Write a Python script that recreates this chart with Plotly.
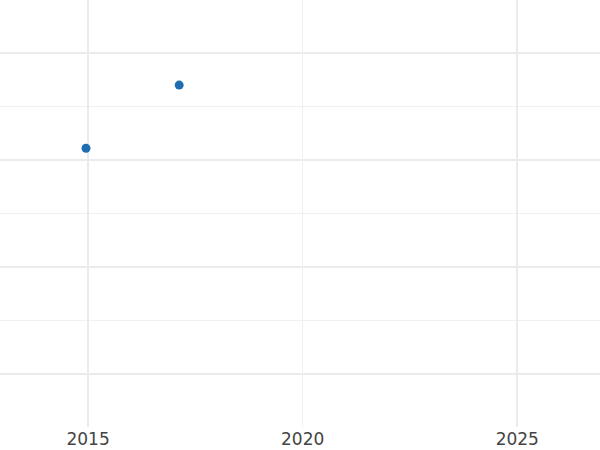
import plotly.graph_objects as go

# Data
dates = ["2014-12-14", "2017-02-14"]
values = [21.1, 27.0]

major_ticks = ["2015-01-01", "2025-01-01"]
major_text = ["2015", "2025"]
minor_ticks = ["2020-01-01"]
minor_text = ["2020"]

x_range = ["2012-12-12", "2026-12-06"]
y_range = [-4.95, 34.95]

grid = "#ebebeb"

fig = go.Figure()
fig.add_trace(go.Scatter(
    x=dates, y=values, mode="markers",
    marker=dict(color="#1f6eb1", size=9),
    showlegend=False,
))
fig.add_trace(go.Scatter(
    x=[], y=[], xaxis="x2", yaxis="y", mode="markers",
    showlegend=False, hoverinfo="skip",
))

fig.update_layout(
    width=600, height=450,
    margin=dict(l=0, r=0, t=0, b=23),
    paper_bgcolor="white", plot_bgcolor="white",
    font=dict(family="DejaVu Sans", size=17, color="#444444"),
    xaxis=dict(
        type="date", range=x_range,
        tickmode="array", tickvals=major_ticks, ticktext=major_text,
        showgrid=True, gridcolor=grid, gridwidth=2,
        zeroline=False, showline=False, ticks="", automargin=False,
    ),
    xaxis2=dict(
        type="date", range=x_range, overlaying="x", anchor="y", side="bottom",
        tickmode="array", tickvals=minor_ticks, ticktext=minor_text,
        showgrid=True, gridcolor="#f0f0f0", gridwidth=1,
        zeroline=False, showline=False, ticks="", automargin=False,
    ),
    yaxis=dict(
        range=y_range, tickmode="linear", tick0=0, dtick=10,
        showticklabels=False, showgrid=True, gridcolor=grid, gridwidth=2,
        zeroline=False, showline=False, ticks="", automargin=False,
        minor=dict(tickmode="linear", tick0=5, dtick=10, showgrid=True,
                   gridcolor="#f0f0f0", gridwidth=1),
    ),
)

fig.write_html("out.html", config={"displayModeBar": False},
               post_script="document.body.style.margin='0';")
